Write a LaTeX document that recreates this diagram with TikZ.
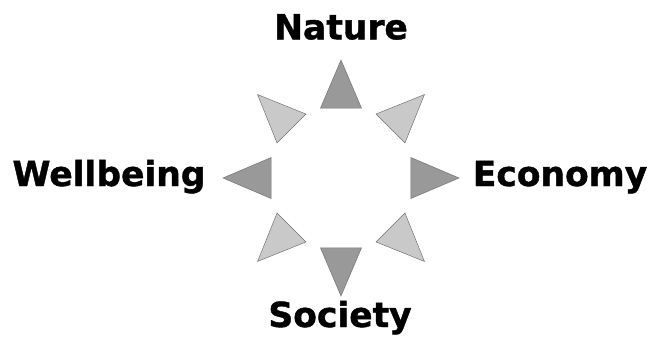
\documentclass[tikz,border=0pt]{standalone}
\usepackage{fontspec}
\setmainfont{DejaVu Sans}[BoldFeatures={FakeBold=1.2}]
\usetikzlibrary{calc}
\definecolor{darktri}{gray}{0.60}
\definecolor{lighttri}{gray}{0.79}
\definecolor{triline}{gray}{0.45}

\begin{document}
\begin{tikzpicture}[x=1pt,y=1pt,
  tri/.style={draw=triline,line width=0.5pt,line join=miter},
  lbl/.style={anchor=base,inner sep=0pt,font=\fontsize{34.5}{40}\selectfont\bfseries}]
  \useasboundingbox (-341,-165) rectangle (306,178);
  \coordinate (hub) at (0,0);
  % eight triangles pointing outwards
  \foreach \a/\c in {90/darktri,0/darktri,180/darktri,270/darktri,45/lighttri,135/lighttri,225/lighttri,315/lighttri}
    \draw[tri,fill=\c] ($(hub)+(\a:118)$) -- ($(hub)+(\a+16.3:72.9)$) -- ($(hub)+(\a-16.3:72.9)$) -- cycle;
  \node[lbl] (nature) at (0,138.7) {Nature};
  \node[lbl] (wellbeing) at (-232,-8) {Wellbeing};
  \node[lbl] (economy) at (219,-8) {Economy};
  \node[lbl] (society) at (-1,-149) {Society};
\end{tikzpicture}
\end{document}
